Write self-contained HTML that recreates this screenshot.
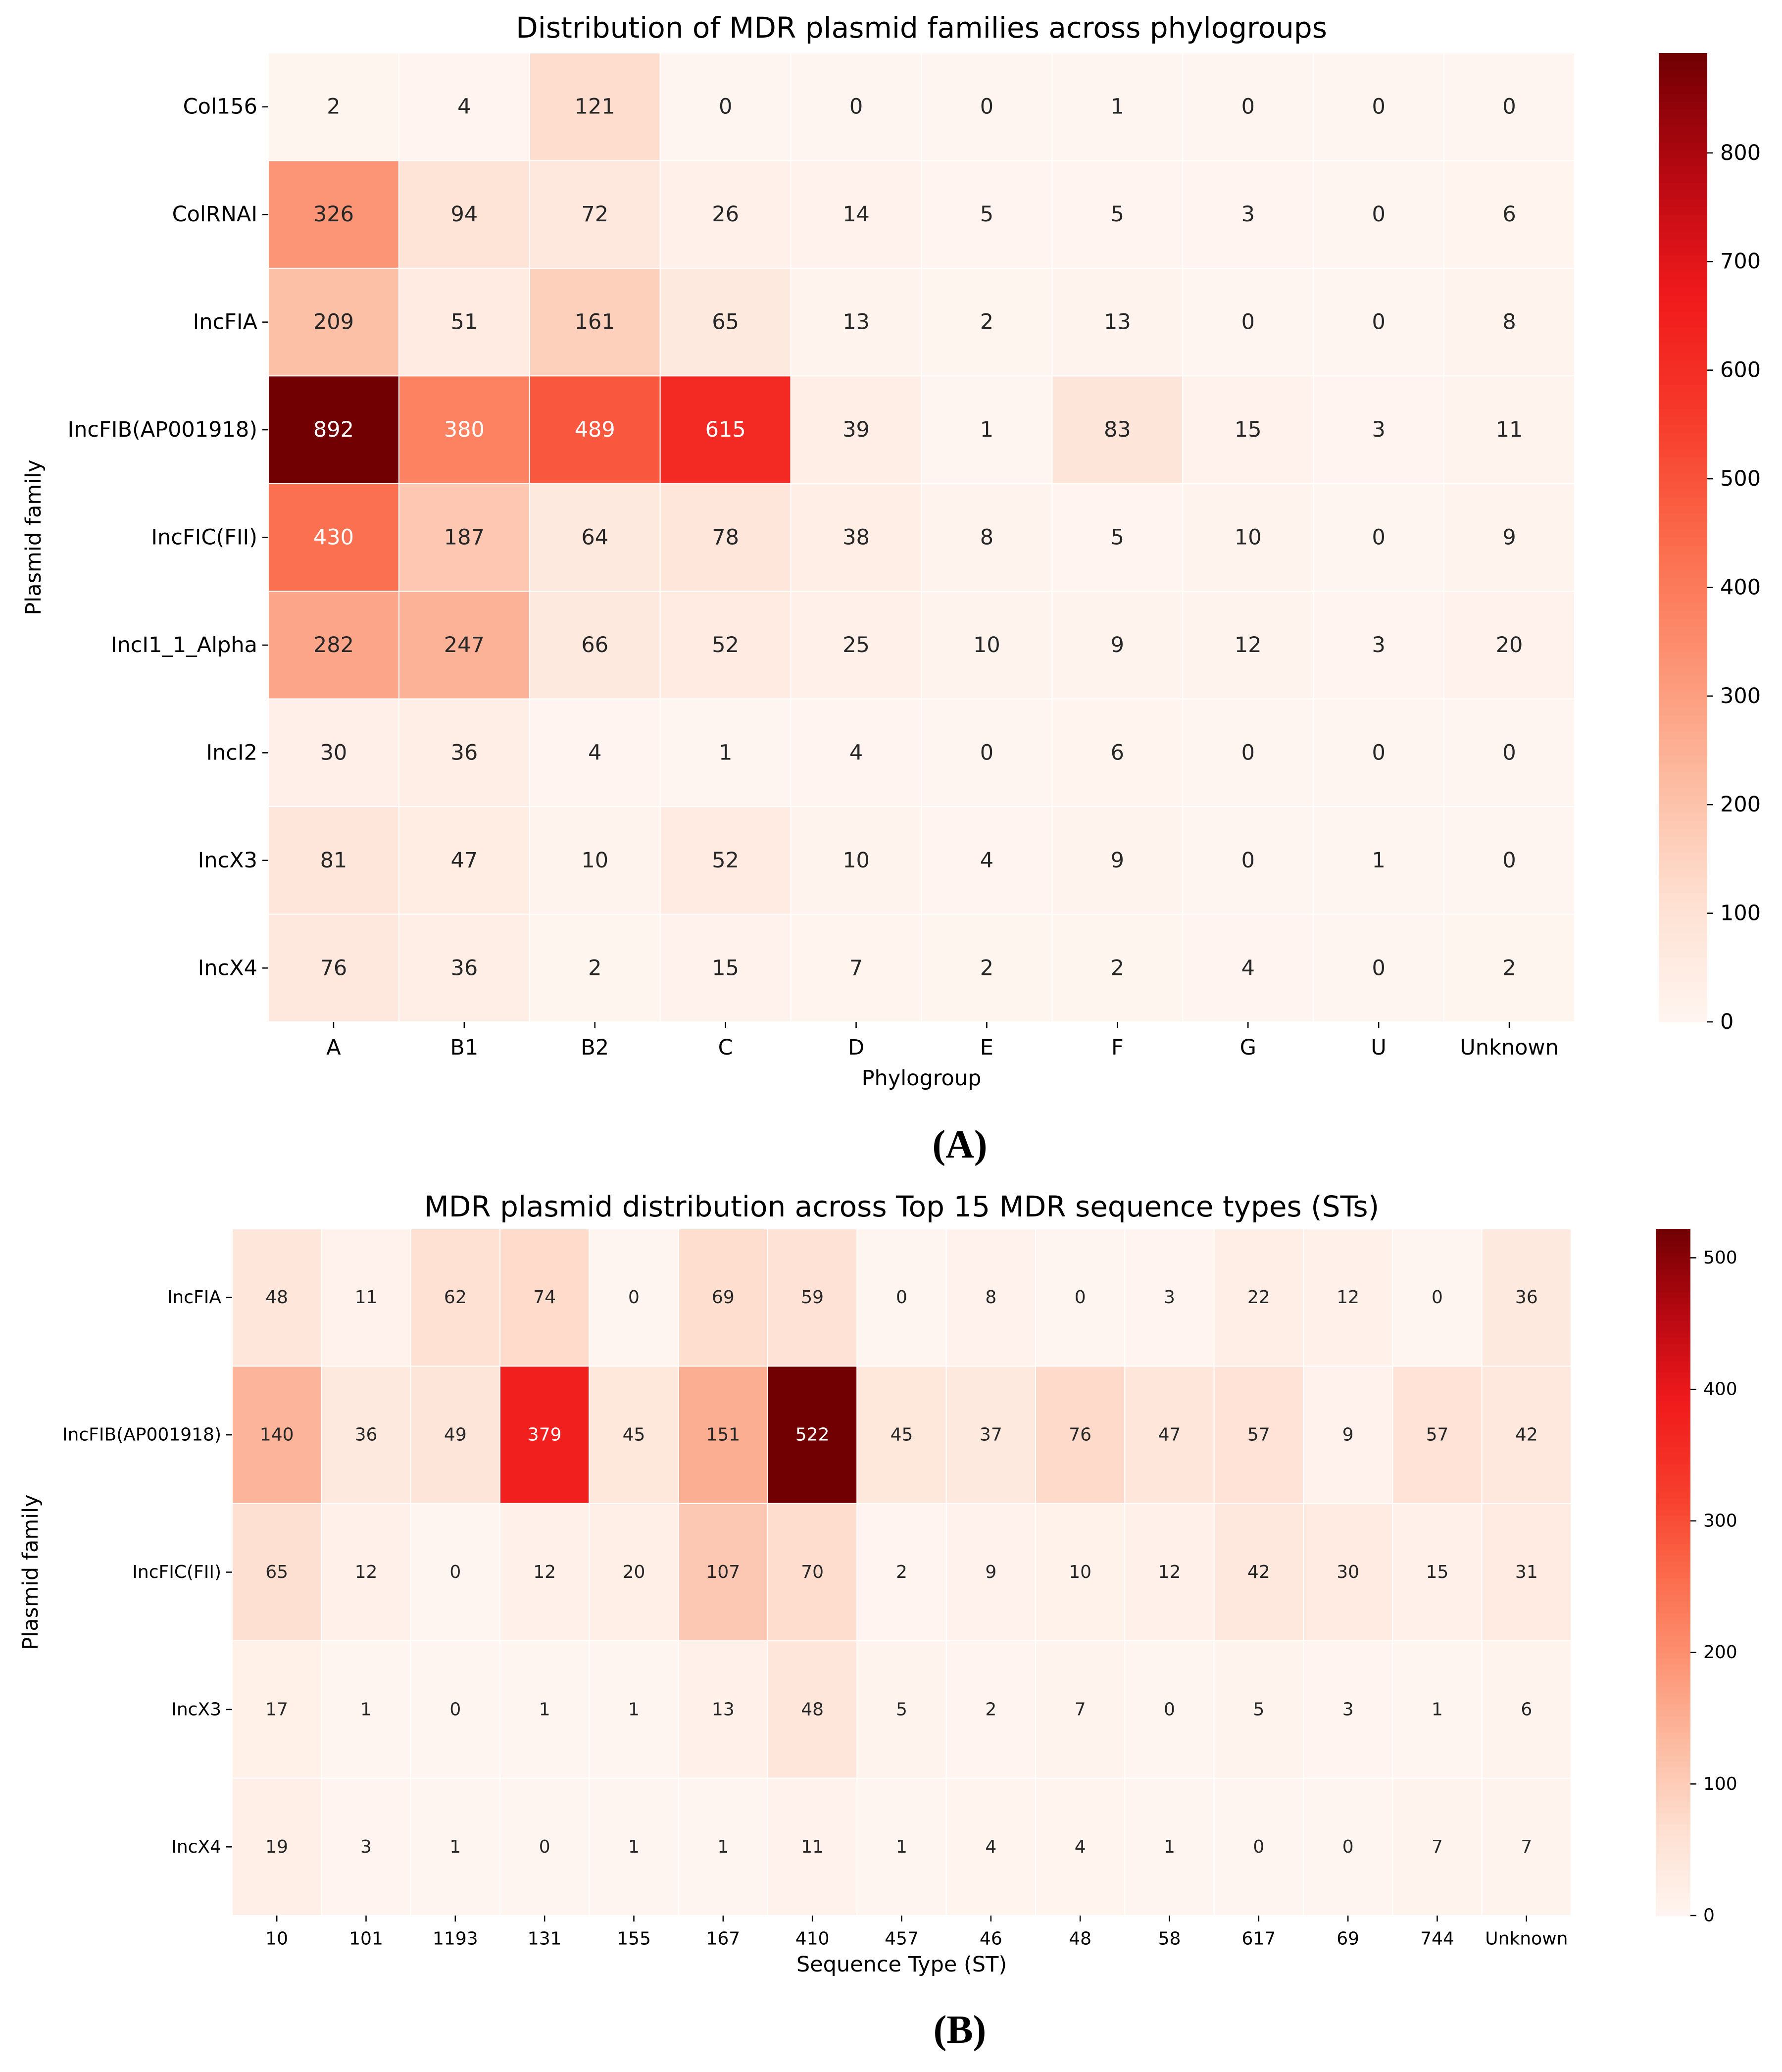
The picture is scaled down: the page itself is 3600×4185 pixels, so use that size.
<!DOCTYPE html>
<html><head><meta charset="utf-8"><style>
html,body{margin:0;padding:0;background:#fff;}
svg{display:block;font-family:"DejaVu Sans","Liberation Sans",sans-serif;}
</style></head><body>
<svg id="s" width="3600" height="4185" viewBox="0 0 3600 4185" xmlns="http://www.w3.org/2000/svg"></svg>
<script>
const rowsA=["Col156","ColRNAI","IncFIA","IncFIB(AP001918)","IncFIC(FII)","IncI1_1_Alpha","IncI2","IncX3","IncX4"];
const colsA=["A","B1","B2","C","D","E","F","G","U","Unknown"];
const valsA=[
[2,4,121,0,0,0,1,0,0,0],
[326,94,72,26,14,5,5,3,0,6],
[209,51,161,65,13,2,13,0,0,8],
[892,380,489,615,39,1,83,15,3,11],
[430,187,64,78,38,8,5,10,0,9],
[282,247,66,52,25,10,9,12,3,20],
[30,36,4,1,4,0,6,0,0,0],
[81,47,10,52,10,4,9,0,1,0],
[76,36,2,15,7,2,2,4,0,2]];
const ticksA=[0,100,200,300,400,500,600,700,800];
const rowsB=["IncFIA","IncFIB(AP001918)","IncFIC(FII)","IncX3","IncX4"];
const colsB=["10","101","1193","131","155","167","410","457","46","48","58","617","69","744","Unknown"];
const valsB=[
[48,11,62,74,0,69,59,0,8,0,3,22,12,0,36],
[140,36,49,379,45,151,522,45,37,76,47,57,9,57,42],
[65,12,0,12,20,107,70,2,9,10,12,42,30,15,31],
[17,1,0,1,1,13,48,5,2,7,0,5,3,1,6],
[19,3,1,0,1,1,11,1,4,4,1,0,0,7,7]];
const ticksB=[0,100,200,300,400,500];

const NS="http://www.w3.org/2000/svg";
const svg=document.getElementById('s');
const stops=[[255,245,240],[254,224,210],[252,187,161],[252,146,114],[251,106,74],[246,58,42],[240,26,28],[184,8,18],[112,0,2]];
function cmap(t){t=Math.max(0,Math.min(1,t));const p=t*8;const i=Math.min(7,Math.floor(p));const f=p-i;const a=stops[i],b=stops[i+1];
return [0,1,2].map(k=>Math.round(a[k]+(b[k]-a[k])*f));}
function rgb(c){return `rgb(${c[0]},${c[1]},${c[2]})`;}
function lum(c){const l=c.map(v=>{v/=255;return v<=0.03928?v/12.92:Math.pow((v+0.055)/1.055,2.4);});return 0.2126*l[0]+0.7152*l[1]+0.0722*l[2];}
function el(tag,attrs,text){const e=document.createElementNS(NS,tag);for(const k in attrs)e.setAttribute(k,attrs[k]);if(text!==undefined)e.textContent=text;svg.appendChild(e);return e;}

function heatmap(cfg){
  const {rows,cols,vals,ticks,x0,x1,y0,y1,vmax,cbx,cbw,fs,afs,title,xlabel,prefix,titleY,xtY,xlY,ylX}=cfg;
  const cw=(x1-x0)/cols.length, rh=(y1-y0)/rows.length;
  const sx=i=>x0+i*cw, sy=j=>y0+j*rh;
  vals.forEach((r,j)=>r.forEach((v,i)=>{
    const c=cmap(v/vmax);
    const rc=el('rect',{x:sx(i),y:sy(j),width:cw,height:rh,fill:rgb(c),stroke:'#fff','stroke-width':2});
    
    
    const t=el('text',{x:sx(i)+cw/2,y:sy(j)+rh/2,'font-size':afs,'text-anchor':'middle','dominant-baseline':'central',fill:lum(c)>0.408?'#262626':'#fff'},String(v));
    
    
  }));
  rows.forEach((r,j)=>{
    const y=sy(j)+rh/2;
    el('line',{x1:x0-12,x2:x0,y1:y,y2:y,stroke:'#000','stroke-width':2.5});
    const t=el('text',{x:x0-22,y:y,'font-size':fs,'text-anchor':'end','dominant-baseline':'central',fill:'#000'},r);
    
    
  });
  cols.forEach((c,i)=>{
    const x=sx(i)+cw/2;
    el('line',{x1:x,x2:x,y1:y1,y2:y1+12,stroke:'#000','stroke-width':2.5});
    const t=el('text',{x:x,y:xtY,'font-size':fs,'text-anchor':'middle','dominant-baseline':'central',fill:'#000'},c);
    
    
  });
  const N=120;
  for(let k=0;k<N;k++){
    const yA=y1-(k+1)*(y1-y0)/N;
    const c=cmap((k+0.5)/N);
    el('rect',{x:cbx,y:yA,width:cbw,height:(y1-y0)/N+1,fill:rgb(c)});
  }
  const cb=el('rect',{x:cbx,y:y0,width:cbw,height:y1-y0,fill:'none'});
  
  
  ticks.forEach(v=>{
    const y=y1-(v/vmax)*(y1-y0);
    el('line',{x1:cbx+cbw,x2:cbx+cbw+12,y1:y,y2:y,stroke:'#000','stroke-width':2.5});
    const t=el('text',{x:cbx+cbw+26,y:y,'font-size':fs,'dominant-baseline':'central',fill:'#000'},String(v));
    
    
  });
  const tt=el('text',{x:(x0+x1)/2,y:titleY,'font-size':58,'text-anchor':'middle','dominant-baseline':'central',fill:'#000'},title);
  
  
  const xl=el('text',{x:(x0+x1)/2,y:xlY,'font-size':43,'text-anchor':'middle','dominant-baseline':'central',fill:'#000'},xlabel);
  
  
  const yc=(y0+y1)/2;
  const yl=el('text',{x:ylX,y:yc,'font-size':43,'text-anchor':'middle','dominant-baseline':'central',fill:'#000',transform:`rotate(-90 ${ylX} ${yc})`},'Plasmid family');
  
  
}
heatmap({rows:rowsA,cols:colsA,vals:valsA,ticks:ticksA,x0:542,x1:3181,y0:107,y1:2064,vmax:892,cbx:3351,cbw:98,fs:43,afs:43,
  title:'Distribution of MDR plasmid families across phylogroups',xlabel:'Phylogroup',prefix:'panel-a',titleY:56,xtY:2116,xlY:2178,ylX:68});
heatmap({rows:rowsB,cols:colsB,vals:valsB,ticks:ticksB,x0:469,x1:3174,y0:2482,y1:3869,vmax:522,cbx:3345,cbw:70,fs:36,afs:36,
  title:'MDR plasmid distribution across Top 15 MDR sequence types (STs)',xlabel:'Sequence Type (ST)',prefix:'panel-b',titleY:2437,xtY:3916,xlY:3968,ylX:62});
const la=el('text',{x:1939,y:2312,'font-size':80,'font-weight':'bold','font-family':'Liberation Serif, serif','text-anchor':'middle','dominant-baseline':'central'},'(A)');


const lb=el('text',{x:1939,y:4100,'font-size':80,'font-weight':'bold','font-family':'Liberation Serif, serif','text-anchor':'middle','dominant-baseline':'central'},'(B)');


</script>
</body></html>
